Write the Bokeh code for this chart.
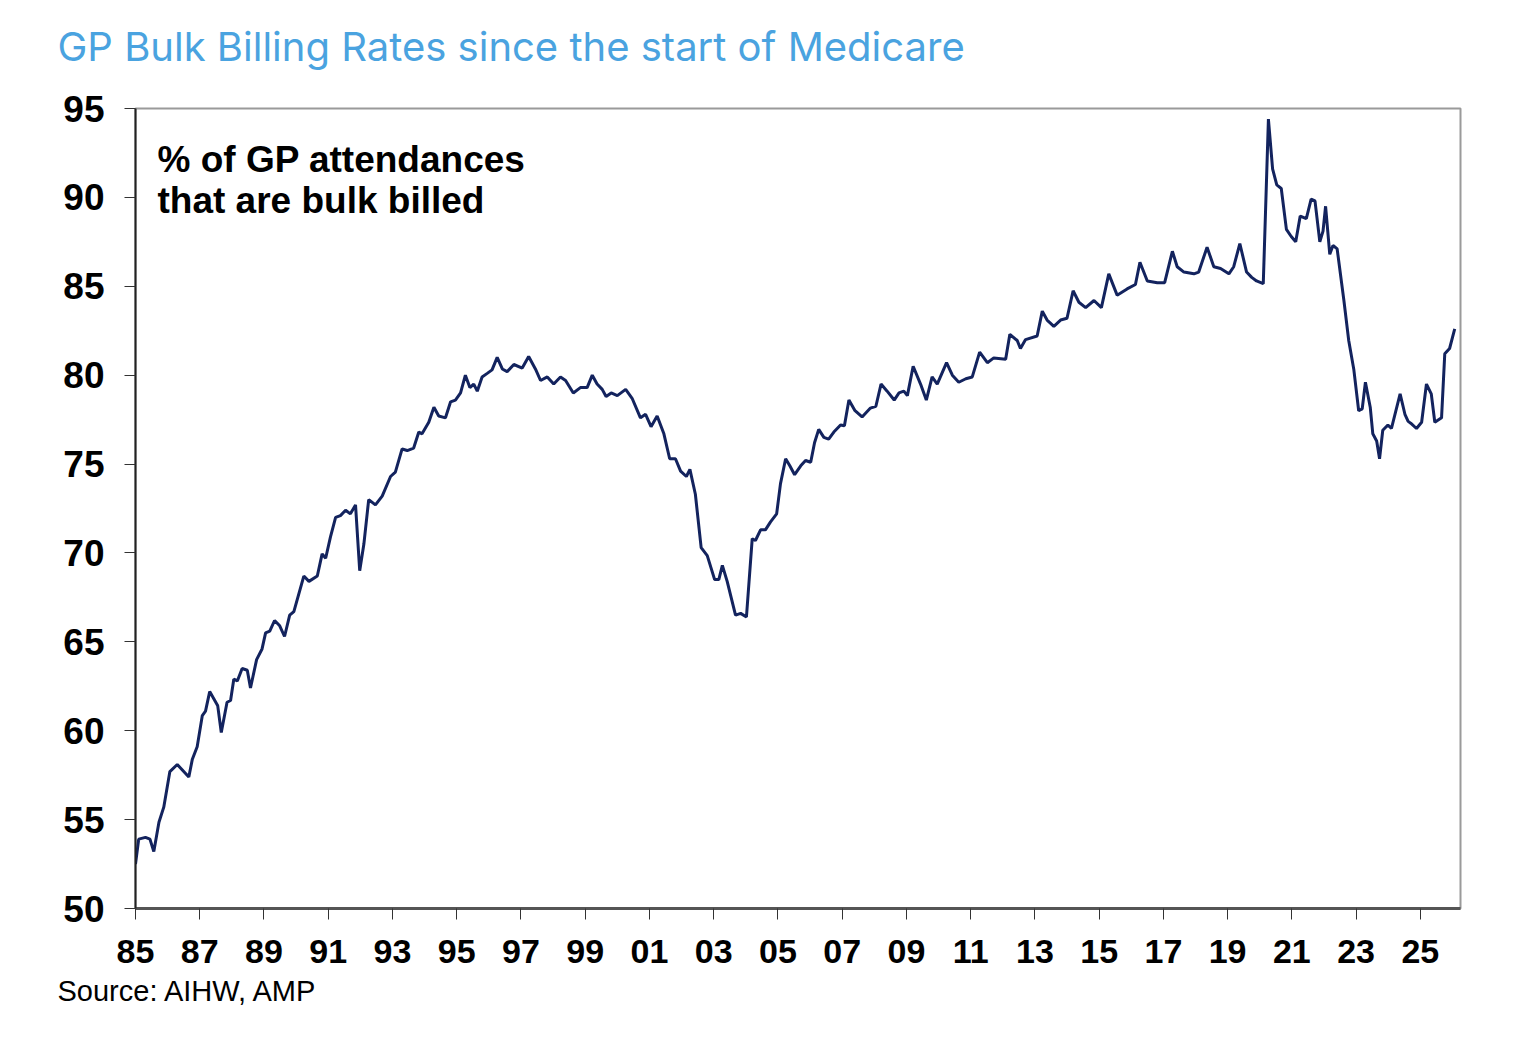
from bokeh.plotting import figure
from bokeh.models import Range1d, FixedTicker, Label, ColumnDataSource, Title
from bokeh.embed import file_html
from bokeh.resources import INLINE

# decimal-year dates and GP bulk billing rate (% of GP attendances bulk billed)
dates = [
    1985.00, 1985.10, 1985.31, 1985.45, 1985.57, 1985.73, 1985.88, 1986.07, 1986.30, 1986.66,
    1986.77, 1986.92, 1987.08, 1987.18, 1987.31, 1987.56, 1987.67, 1987.85, 1987.96, 1988.06,
    1988.17, 1988.32, 1988.48, 1988.58, 1988.77, 1988.94, 1989.05, 1989.18, 1989.33, 1989.49,
    1989.64, 1989.80, 1989.93, 1990.24, 1990.40, 1990.66, 1990.81, 1990.92, 1991.07, 1991.23,
    1991.38, 1991.54, 1991.69, 1991.85, 1991.98, 1992.11, 1992.26, 1992.47, 1992.68, 1992.94,
    1993.09, 1993.30, 1993.46, 1993.66, 1993.82, 1993.92, 1994.13, 1994.29, 1994.44, 1994.65,
    1994.81, 1994.96, 1995.12, 1995.27, 1995.41, 1995.53, 1995.64, 1995.79, 1995.95, 1996.10,
    1996.26, 1996.42, 1996.57, 1996.78, 1997.04, 1997.24, 1997.45, 1997.61, 1997.82, 1998.02,
    1998.23, 1998.39, 1998.63, 1998.85, 1999.06, 1999.22, 1999.37, 1999.53, 1999.65, 1999.81,
    2000.00, 2000.26, 2000.46, 2000.72, 2000.88, 2001.05, 2001.24, 2001.45, 2001.63, 2001.81,
    2001.97, 2002.15, 2002.26, 2002.43, 2002.61, 2002.80, 2003.03, 2003.16, 2003.27, 2003.42,
    2003.68, 2003.84, 2004.02, 2004.20, 2004.30, 2004.46, 2004.61, 2004.77, 2004.96, 2005.08,
    2005.24, 2005.37, 2005.52, 2005.71, 2005.86, 2006.02, 2006.14, 2006.27, 2006.43, 2006.58,
    2006.74, 2006.95, 2007.07, 2007.21, 2007.40, 2007.62, 2007.88, 2008.05, 2008.21, 2008.40,
    2008.62, 2008.77, 2008.92, 2009.03, 2009.21, 2009.44, 2009.62, 2009.80, 2009.96, 2010.25,
    2010.43, 2010.63, 2010.85, 2011.05, 2011.28, 2011.52, 2011.72, 2012.09, 2012.22, 2012.45,
    2012.55, 2012.71, 2013.07, 2013.23, 2013.38, 2013.59, 2013.80, 2014.00, 2014.19, 2014.37,
    2014.58, 2014.84, 2015.07, 2015.30, 2015.56, 2015.87, 2016.13, 2016.27, 2016.50, 2016.81,
    2017.04, 2017.28, 2017.43, 2017.64, 2017.95, 2018.10, 2018.36, 2018.57, 2018.78, 2019.04,
    2019.19, 2019.38, 2019.59, 2019.75, 2019.90, 2020.11, 2020.27, 2020.40, 2020.53, 2020.67,
    2020.83, 2020.98, 2021.12, 2021.26, 2021.45, 2021.60, 2021.72, 2021.87, 2021.97, 2022.05,
    2022.18, 2022.28, 2022.41, 2022.62, 2022.77, 2022.93, 2023.08, 2023.19, 2023.29, 2023.44,
    2023.52, 2023.64, 2023.73, 2023.83, 2023.99, 2024.10, 2024.37, 2024.52, 2024.62, 2024.70,
    2024.88, 2025.04, 2025.19, 2025.34, 2025.45, 2025.66, 2025.76, 2025.91, 2026.07,
]
rates = [
    52.5, 53.9, 54.0, 53.9, 53.2, 54.85, 55.7, 57.7, 58.1, 57.4,
    58.4, 59.1, 60.85, 61.1, 62.2, 61.4, 59.9, 61.6, 61.7, 62.9,
    62.8, 63.5, 63.4, 62.4, 64.0, 64.6, 65.5, 65.6, 66.2, 65.9,
    65.3, 66.5, 66.7, 68.7, 68.4, 68.7, 69.95, 69.7, 70.9, 72.0,
    72.1, 72.4, 72.2, 72.7, 69.0, 70.5, 73.0, 72.7, 73.2, 74.3,
    74.55, 75.85, 75.76, 75.9, 76.8, 76.7, 77.35, 78.2, 77.7, 77.6,
    78.5, 78.6, 79.0, 80.0, 79.3, 79.5, 79.1, 79.9, 80.1, 80.3,
    81.0, 80.35, 80.2, 80.6, 80.4, 81.05, 80.35, 79.7, 79.9, 79.5,
    79.9, 79.7, 79.0, 79.3, 79.3, 80.0, 79.5, 79.2, 78.8, 79.0,
    78.85, 79.2, 78.7, 77.6, 77.8, 77.1, 77.7, 76.7, 75.3, 75.3,
    74.6, 74.3, 74.7, 73.3, 70.3, 69.85, 68.5, 68.5, 69.3, 68.4,
    66.5, 66.6, 66.4, 70.8, 70.7, 71.3, 71.3, 71.75, 72.2, 73.9,
    75.3, 74.9, 74.4, 74.9, 75.2, 75.1, 76.2, 76.95, 76.5, 76.4,
    76.8, 77.2, 77.15, 78.6, 78.0, 77.65, 78.15, 78.25, 79.5, 79.1,
    78.6, 79.0, 79.1, 78.85, 80.5, 79.5, 78.6, 79.9, 79.5, 80.7,
    80.0, 79.6, 79.8, 79.9, 81.3, 80.7, 80.97, 80.9, 82.3, 81.95,
    81.5, 82.0, 82.2, 83.6, 83.1, 82.75, 83.1, 83.2, 84.75, 84.1,
    83.8, 84.2, 83.8, 85.7, 84.5, 84.85, 85.1, 86.35, 85.3, 85.2,
    85.2, 86.97, 86.1, 85.8, 85.7, 85.8, 87.2, 86.1, 86.0, 85.7,
    86.1, 87.4, 85.8, 85.5, 85.3, 85.15, 94.4, 91.6, 90.7, 90.5,
    88.2, 87.8, 87.5, 88.95, 88.8, 89.9, 89.8, 87.5, 88.1, 89.5,
    86.8, 87.3, 87.1, 84.2, 81.95, 80.3, 78.0, 78.1, 79.6, 78.2,
    76.7, 76.3, 75.3, 76.9, 77.2, 77.0, 78.95, 77.8, 77.4, 77.3,
    77.0, 77.35, 79.5, 78.95, 77.35, 77.6, 81.2, 81.5, 82.6,
]

x_ticks = list(range(1985, 2026, 2))
x_tick_labels = ["%02d" % (y % 100) for y in x_ticks]
y_ticks = [50, 55, 60, 65, 70, 75, 80, 85, 90, 95]

title_text = "GP Bulk Billing Rates since the start of Medicare"
note_lines = ["% of GP attendances", "that are bulk billed"]
source_text = "Source: AIHW, AMP"

src = ColumnDataSource(data=dict(x=dates, y=rates))

p = figure(width=1524, height=1042, output_backend="svg", toolbar_location=None,
           title=None,
           x_range=Range1d(1985, 2026.25), y_range=Range1d(50, 95),
           min_border_left=135, min_border_right=64, min_border_top=108,
           min_border_bottom=134)
p.background_fill_color = "white"
p.border_fill_color = "white"
p.outline_line_color = "#9a9a9a"
p.outline_line_width = 2
p.grid.visible = False

p.line("x", "y", source=src, line_color="#13235e", line_width=3)

for ax in (p.xaxis[0], p.yaxis[0]):
    ax.major_label_text_font = "Liberation Sans"
    ax.major_label_text_font_style = "bold"
    ax.major_label_text_color = "black"
    ax.minor_tick_line_color = None
    ax.major_tick_in = 0
    ax.major_tick_out = 11
    ax.major_tick_line_color = "#333333"
    ax.major_tick_line_width = 1

p.xaxis.ticker = FixedTicker(ticks=x_ticks)
p.xaxis.major_label_overrides = {t: l for t, l in zip(x_ticks, x_tick_labels)}
p.xaxis.axis_line_color = "#555555"
p.xaxis.axis_line_width = 3
p.xaxis.major_label_standoff = 20
p.xaxis.major_label_text_font_size = "34px"

p.yaxis.ticker = FixedTicker(ticks=y_ticks)
p.yaxis.axis_line_color = "#222222"
p.yaxis.axis_line_width = 2
p.yaxis.major_label_standoff = 20
p.yaxis.major_label_text_font_size = "37px"

# spacer panel next to the frame, then the chart title above it
p.add_layout(Title(text=" ", standoff=35, text_font_size="1px"), "above")
p.add_layout(Title(text=title_text, align="left", offset=-78, standoff=0,
                   vertical_align="bottom", text_font="Inter",
                   text_font_style="normal", text_font_size="40px",
                   text_color="#4aa3e0"), "above")

# source note below the axis
p.add_layout(Title(text=source_text, align="left", offset=-78, standoff=18,
                   vertical_align="top", text_font="Liberation Sans",
                   text_font_style="normal", text_font_size="29px",
                   text_color="black"), "below")

# in-chart annotation (screen units from frame left / frame bottom)
p.add_layout(Label(x=22, y=749, x_units="screen", y_units="screen", text=note_lines[0],
                   text_font="Liberation Sans", text_font_style="bold", text_font_size="37px",
                   text_color="black", text_baseline="alphabetic"))
p.add_layout(Label(x=22, y=708, x_units="screen", y_units="screen", text=note_lines[1],
                   text_font="Liberation Sans", text_font_style="bold", text_font_size="37px",
                   text_color="black", text_baseline="alphabetic"))

open("out.html", "w").write(file_html(p, INLINE))
